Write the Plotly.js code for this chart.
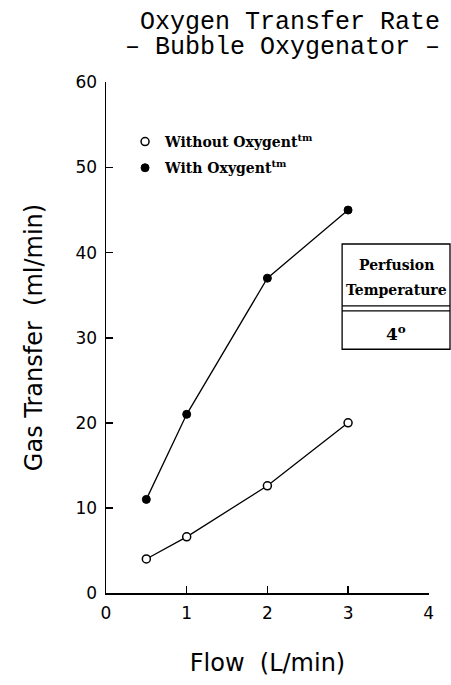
<!DOCTYPE html>
<html><head><meta charset="utf-8">
<script src="https://cdn.plot.ly/plotly-3.0.1.min.js"></script>
<style>html,body{margin:0;padding:0;background:#fff}</style>
</head><body>
<div id="chart" style="width:451px;height:685px"></div>
<script>
const flow = [0.5, 1, 2, 3];
const withoutOxygent = [4.0, 6.6, 12.6, 20.0];
const withOxygent = [11.0, 21.0, 37.0, 45.0];
const xTicks = [0, 1, 2, 3, 4];
const yTicks = [0, 10, 20, 30, 40, 50, 60];
const seriesNames = ['<b>Without Oxygent</b><sup><b>tm</b></sup>', '<b>With Oxygent</b><sup><b>tm</b></sup>'];

const lineStyle = {color: '#000', width: 1.3};
const traces = [
  {x: flow, y: withoutOxygent, mode: 'lines', type: 'scatter', line: lineStyle, showlegend: false, hoverinfo: 'skip'},
  {x: flow, y: withOxygent, mode: 'lines', type: 'scatter', line: lineStyle, showlegend: false, hoverinfo: 'skip'},
  {x: flow, y: withoutOxygent, name: seriesNames[0], mode: 'markers', type: 'scatter', legendgroup: 'a',
   marker: {symbol: 'circle', size: 8, color: '#fff', line: {color: '#000', width: 1.5}}},
  {x: flow, y: withOxygent, name: seriesNames[1], mode: 'markers', type: 'scatter', legendgroup: 'b',
   marker: {symbol: 'circle', size: 8, color: '#000', line: {color: '#000', width: 1}}}
];

const axisFont = {family: 'DejaVu Sans', size: 24, color: '#000'};
const tickFont = {family: 'DejaVu Sans', size: 17, color: '#000'};
const boxFont = {family: 'DejaVu Serif', size: 14, color: '#000'};

const layout = {
  width: 451, height: 685,
  margin: {l: 106, r: 22, t: 82, b: 92},
  paper_bgcolor: '#fff', plot_bgcolor: '#fff',
  showlegend: true,
  legend: {x: 0.059, y: 0.914, xanchor: 'left', yanchor: 'top', bgcolor: 'rgba(0,0,0,0)',
    font: {family: 'DejaVu Serif', size: 14, color: '#000'}, traceorder: 'grouped', tracegroupgap: 5},
  xaxis: {range: [0, 4.003], tickvals: xTicks, ticks: 'inside', ticklen: 7, tickwidth: 1.6, tickcolor: '#000',
    showline: true, linecolor: '#000', linewidth: 1.5, showgrid: false, zeroline: false,
    tickfont: tickFont, ticklabelstandoff: 4,
    title: {text: 'Flow  (L/min)', font: axisFont, standoff: 32}},
  yaxis: {range: [0, 60.05], tickvals: yTicks, ticks: 'inside', ticklen: 7, tickwidth: 1.6, tickcolor: '#000',
    showline: true, linecolor: '#000', linewidth: 1.5, showgrid: false, zeroline: false,
    tickfont: tickFont, ticklabelstandoff: 4,
    title: {text: 'Gas Transfer  (ml/min)', font: axisFont, standoff: 26}},
  annotations: [
    {text: '<span style="font-size:25px">Oxygen Transfer Rate</span><br><span style="font-size:25px">– Bubble Oxygenator –</span>',
     xref: 'paper', yref: 'paper', x: 1.04, y: 1.092,
     showarrow: false, align: 'right', xanchor: 'right', yanchor: 'middle',
     font: {family: 'Liberation Mono', size: 19, color: '#000'}},
    {text: '<b>Perfusion</b>', xref: 'paper', yref: 'paper', x: 0.898, y: 0.642, showarrow: false,
     xanchor: 'center', yanchor: 'middle', font: boxFont},
    {text: '<b>Temperature</b>', xref: 'paper', yref: 'paper', x: 0.898, y: 0.593, showarrow: false,
     xanchor: 'center', yanchor: 'middle', font: boxFont},
    {text: '<b>4</b><sup><b>o</b></sup>', xref: 'paper', yref: 'paper', x: 0.898, y: 0.508, showarrow: false,
     xanchor: 'center', yanchor: 'middle', font: {family: 'DejaVu Serif', size: 17, color: '#000'}}
  ],
  shapes: [
    {type: 'rect', xref: 'paper', yref: 'paper', x0: 0.731, x1: 1.065, y0: 0.477, y1: 0.683,
     line: {color: '#000', width: 1.3}},
    {type: 'line', xref: 'paper', yref: 'paper', x0: 0.731, x1: 1.065, y0: 0.562, y1: 0.562,
     line: {color: '#000', width: 1.3}},
    {type: 'line', xref: 'paper', yref: 'paper', x0: 0.731, x1: 1.065, y0: 0.552, y1: 0.552,
     line: {color: '#000', width: 1.3}}
  ]
};
Plotly.newPlot('chart', traces, layout, {displayModeBar: false, staticPlot: true});
</script>
</body></html>
